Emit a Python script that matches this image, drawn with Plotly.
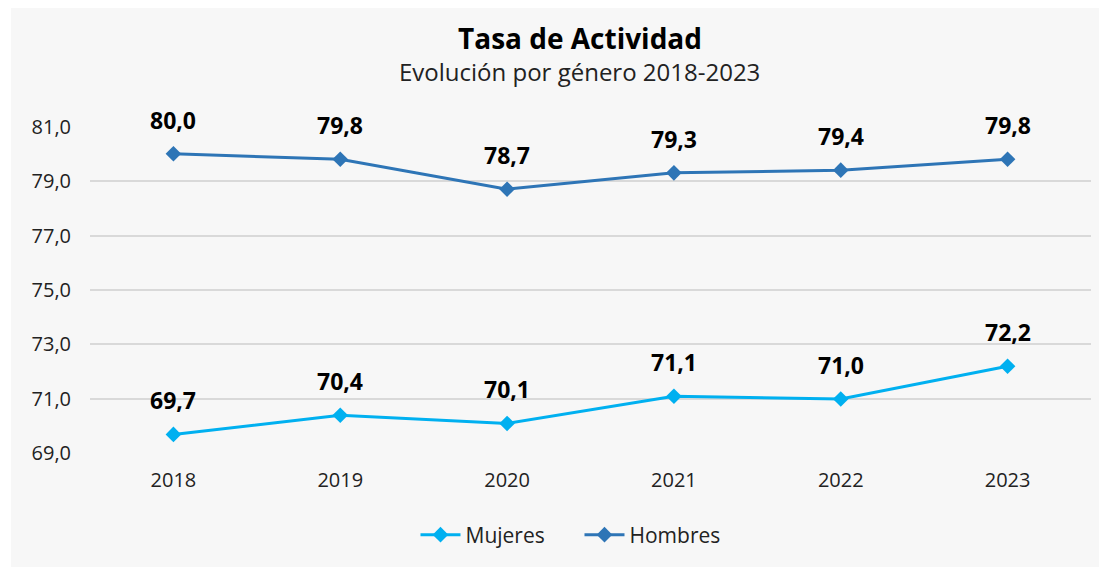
import plotly.graph_objects as go

years = [2018, 2019, 2020, 2021, 2022, 2023]
mujeres = [69.7, 70.4, 70.1, 71.1, 71.0, 72.2]
hombres = [80.0, 79.8, 78.7, 79.3, 79.4, 79.8]
y_ticks = [69, 71, 73, 75, 77, 79, 81]

FONT = "Open Sans"
C_MUJ = "#00b0f0"
C_HOM = "#2e75b6"

fig = go.Figure()
fig.add_trace(go.Scatter(x=years, y=mujeres, name="Mujeres", mode="lines+markers",
                         line=dict(color=C_MUJ, width=3),
                         marker=dict(symbol="diamond", size=12, color=C_MUJ)))
fig.add_trace(go.Scatter(x=years, y=hombres, name="Hombres", mode="lines+markers",
                         line=dict(color=C_HOM, width=3),
                         marker=dict(symbol="diamond", size=12, color=C_HOM)))

annotations = []
for series in (mujeres, hombres):
    for x, v in zip(years, series):
        annotations.append(dict(x=x, y=v, xref="x", yref="y", showarrow=False,
                                text="<b>" + f"{v:.1f}".replace(".", ",") + "</b>",
                                yshift=34, font=dict(family=FONT, size=23, color="#000000")))

annotations.append(dict(x=0.4895, y=1.268, xref="paper", yref="paper", showarrow=False,
                        xanchor="center", yanchor="middle",
                        text="<b>Tasa de Actividad</b>",
                        font=dict(family=FONT, size=28, color="#000000")))
annotations.append(dict(x=0.4895, y=1.165, xref="paper", yref="paper", showarrow=False,
                        xanchor="center", yanchor="middle",
                        text="Evolución por género 2018-2023",
                        font=dict(family=FONT, size=24, color="#222222")))

fig.update_layout(
    width=1107, height=567,
    margin=dict(l=82, r=24, t=118, b=121, autoexpand=False),
    paper_bgcolor="#ffffff",
    plot_bgcolor="rgba(0,0,0,0)",
    separators=",.",
    showlegend=True,
    legend=dict(orientation="h", x=0.489, y=-0.247, xanchor="center", yanchor="middle",
                font=dict(family=FONT, size=21, color="#222222"),
                bgcolor="rgba(0,0,0,0)", itemwidth=40, entrywidth=109),
    annotations=annotations,
    shapes=[dict(type="rect", xref="paper", yref="paper", x0=-0.0789, x1=1.05,
                 y0=-0.4, y1=1.369, fillcolor="#f7f7f7", line=dict(width=0), layer="below")],
    font=dict(family=FONT, color="#222222"),
)
fig.update_xaxes(range=[2017.5, 2023.5], tickvals=years, tickformat="d",
                 showgrid=False, zeroline=False, showline=False,
                 tickfont=dict(family=FONT, size=20, color="#222222"),
                 ticks="", ticklabelstandoff=12)
fig.update_yaxes(range=[68.98, 81.02], tickvals=y_ticks, tickformat=".1f",
                 showgrid=True, gridcolor="#d9d9d9", gridwidth=2, zeroline=False, showline=False,
                 tickfont=dict(family=FONT, size=20, color="#222222"),
                 ticks="", ticklabelstandoff=18)

fig.write_html("out.html")
